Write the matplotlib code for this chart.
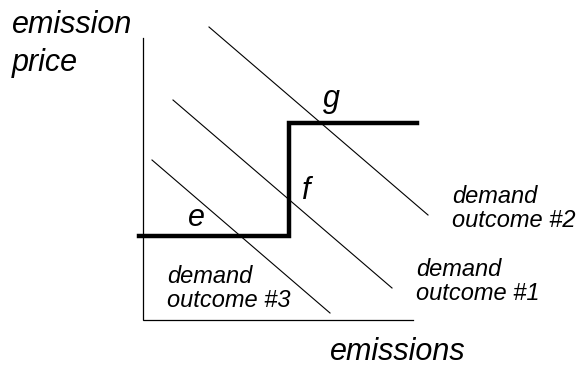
import matplotlib
matplotlib.use("Agg")
import matplotlib.pyplot as plt

# coordinates measured from the axis corner (emissions, price)
supply_x = [-4, 146, 146, 274]
supply_y = [84, 84, 197, 197]

demand_lines = {
    "#2": ([66, 285], [293, 105]),
    "#1": ([30, 249], [220, 32]),
    "#3": ([9, 187], [160, 7]),
}

axis_x = [0, 0, 270]
axis_y = [282, 0, 0]

point_labels = ["e", "f", "g"]
point_x = [45, 159, 180]
point_y = [94, 121, 213]

demand_label_x = [309, 273, 24]
demand_label_y = [117, 44, 37]
demand_names = ["demand\noutcome #2", "demand\noutcome #1", "demand\noutcome #3"]

plt.rcParams["font.family"] = ["Liberation Sans", "DejaVu Sans"]

fig = plt.figure(figsize=(5.8, 3.67), dpi=100)
ax = fig.add_axes([0, 0, 1, 1])
ax.set_xlim(-143, 437)
ax.set_ylim(-47, 320)
ax.axis("off")

ax.plot(axis_x, axis_y, color="black", lw=0.9, solid_joinstyle="miter")

for name, (xs, ys) in demand_lines.items():
    ax.plot(xs, ys, color="black", lw=0.8)

ax.plot(supply_x, supply_y, color="black", lw=3.2, solid_joinstyle="miter")

for lab, x, y in zip(point_labels, point_x, point_y):
    ax.text(x, y, lab, fontsize=22, style="italic", va="baseline")

for name, x, y in zip(demand_names, demand_label_x, demand_label_y):
    first, second = name.split("\n")
    ax.text(x, y, first, fontsize=17, style="italic", va="baseline")
    ax.text(x, y - 24, second, fontsize=17, style="italic", va="baseline")

ax.text(-131, 287, "emission", fontsize=22, style="italic", va="baseline")
ax.text(-131, 249, "price", fontsize=22, style="italic", va="baseline")
ax.text(187, -40, "emissions", fontsize=22, style="italic", va="baseline")

fig.savefig("out.png", dpi=100)
